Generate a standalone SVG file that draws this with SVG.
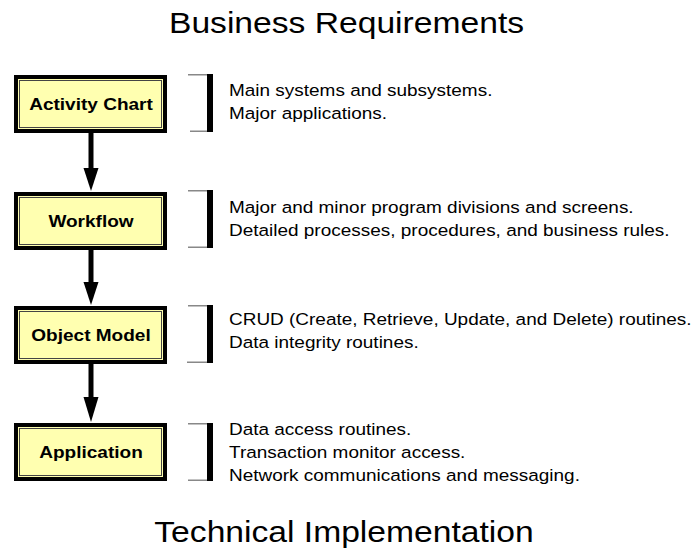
<svg xmlns="http://www.w3.org/2000/svg" width="694" height="550" viewBox="0 0 694 550">
  <style>
    .title { font-family: "Liberation Sans", Arial, sans-serif; font-size: 29px; fill: #000; text-anchor: middle; }
    .label { font-family: "Liberation Sans", Arial, sans-serif; font-size: 16.4px; font-weight: bold; fill: #000; text-anchor: middle; }
    .body { font-family: "Liberation Sans", Arial, sans-serif; font-size: 16.5px; fill: #000; }
    .outer { fill: #ffffb0; stroke: #000; stroke-width: 4; }
    .inner { fill: none; stroke: #444; stroke-width: 1; }
    .bar { fill: #000; }
    .tick { stroke: #888; stroke-width: 1.5; fill: none; }
    .shaft { stroke: #000; stroke-width: 5; fill: none; }
    .head { fill: #000; }
  </style>
  <rect width="694" height="550" fill="#fff"/>

  <g transform="translate(346.5,0) scale(1.16,1)">
    <text class="title" x="0" y="33">Business Requirements</text>
  </g>
  <g transform="translate(344,0) scale(1.16,1)">
    <text class="title" x="0" y="542">Technical Implementation</text>
  </g>

  <g id="connectors">
    <line class="shaft" x1="91" y1="133" x2="91" y2="169"/>
    <polygon class="head" points="83.5,168 98.5,168 91,191"/>
    <line class="shaft" x1="91" y1="250" x2="91" y2="283"/>
    <polygon class="head" points="83.5,282 98.5,282 91,305"/>
    <line class="shaft" x1="91" y1="364" x2="91" y2="398"/>
    <polygon class="head" points="83.5,397 98.5,397 91,422"/>
  </g>

  <g id="activity-chart">
    <rect class="outer" x="16" y="77" width="149" height="54"/>
    <rect class="inner" x="19.5" y="80.5" width="142" height="47"/>
    <g transform="translate(91,0) scale(1.16,1)"><text class="label" x="0" y="110">Activity Chart</text></g>
  </g>
  <g id="workflow">
    <rect class="outer" x="16" y="194" width="149" height="54"/>
    <rect class="inner" x="19.5" y="197.5" width="142" height="47"/>
    <g transform="translate(91,0) scale(1.16,1)"><text class="label" x="0" y="227">Workflow</text></g>
  </g>
  <g id="object-model">
    <rect class="outer" x="16" y="308" width="149" height="54"/>
    <rect class="inner" x="19.5" y="311.5" width="142" height="47"/>
    <g transform="translate(91,0) scale(1.16,1)"><text class="label" x="0" y="341">Object Model</text></g>
  </g>
  <g id="application">
    <rect class="outer" x="16" y="425" width="149" height="54"/>
    <rect class="inner" x="19.5" y="428.5" width="142" height="47"/>
    <g transform="translate(91,0) scale(1.16,1)"><text class="label" x="0" y="458">Application</text></g>
  </g>

  <g id="note-activity">
    <path class="tick" d="M188,74.75 H210 M190,131.25 H210"/>
    <rect class="bar" x="207" y="74" width="6" height="58"/>
    <g transform="translate(229,0) scale(1.15,1)">
      <text class="body" x="0" y="96">Main systems and subsystems.</text>
      <text class="body" x="0" y="119">Major applications.</text>
    </g>
  </g>
  <g id="note-workflow">
    <path class="tick" d="M188,190.75 H210 M188,247.25 H210"/>
    <rect class="bar" x="207" y="190" width="6" height="58"/>
    <g transform="translate(229,0) scale(1.15,1)">
      <text class="body" x="0" y="213">Major and minor program divisions and screens.</text>
      <text class="body" x="0" y="236">Detailed processes, procedures, and business rules.</text>
    </g>
  </g>
  <g id="note-object-model">
    <path class="tick" d="M188,305.75 H210 M187,362.25 H210"/>
    <rect class="bar" x="207" y="305" width="6" height="58"/>
    <g transform="translate(229,0) scale(1.15,1)">
      <text class="body" x="0" y="325">CRUD (Create, Retrieve, Update, and Delete) routines.</text>
      <text class="body" x="0" y="348">Data integrity routines.</text>
    </g>
  </g>
  <g id="note-application">
    <path class="tick" d="M188,423.75 H210 M188,480.25 H210"/>
    <rect class="bar" x="207" y="423" width="6" height="58"/>
    <g transform="translate(229,0) scale(1.15,1)">
      <text class="body" x="0" y="435">Data access routines.</text>
      <text class="body" x="0" y="458">Transaction monitor access.</text>
      <text class="body" x="0" y="481">Network communications and messaging.</text>
    </g>
  </g>
</svg>
